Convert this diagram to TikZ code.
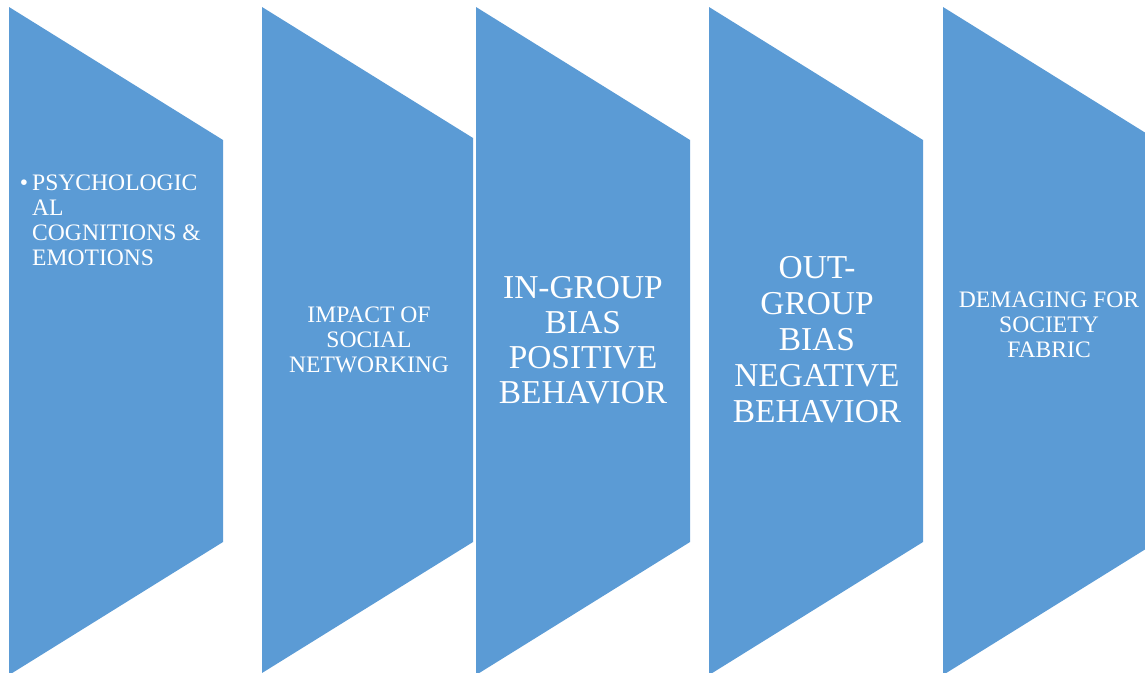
\documentclass[tikz,border=0pt]{standalone}
\usepackage{fontspec}
\setmainfont{Liberation Serif}
\definecolor{bandblue}{HTML}{5B9BD5}
\tikzset{
  band/.style={fill=bandblue, draw=none},
  bandtext/.style={text=white, inner sep=0pt, align=center, anchor=base},
  smalltext/.style={font=\fontsize{23.6}{24.8}\selectfont},
  bigtext/.style={font=\fontsize{33.4}{36}\selectfont}
}
\begin{document}
\begin{tikzpicture}[x=1pt,y=-1pt]
\useasboundingbox (0,0) rectangle (1145,672);
% bands
\fill[band] (9,7) -- (223,140) -- (223,542) -- (9,675) -- cycle;
\fill[band] (262,7) -- (473,138) -- (473,542) -- (262,673) -- cycle;
\fill[band] (476,7) -- (690,140) -- (690,542) -- (476,675) -- cycle;
\fill[band] (709,7) -- (923,140) -- (923,542) -- (709,675) -- cycle;
\fill[band] (943,7) -- (1157,140) -- (1157,542) -- (943,675) -- cycle;
% texts (anchored at the baseline of the last line)
\node[bandtext, smalltext, align=left, anchor=base west] (psych) at (32,265)
  {\llap{\textbullet\hspace{4pt}}PSYCHOLOGIC\\AL\\COGNITIONS \&\\EMOTIONS};
\node[bandtext, smalltext] (impact) at (369,372) {IMPACT OF\\SOCIAL\\NETWORKING};
\node[bandtext, bigtext, font=\fontsize{33.4}{35}\selectfont] (ingroup) at (583,403)
  {IN-GROUP\\BIAS\\POSITIVE\\BEHAVIOR};
\node[bandtext, bigtext] (outgroup) at (817,422) {OUT-\\GROUP\\BIAS\\NEGATIVE\\BEHAVIOR};
\node[bandtext, smalltext, font=\fontsize{23.6}{25}\selectfont] (society) at (1049,357)
  {DEMAGING FOR\\SOCIETY\\FABRIC};
\end{tikzpicture}
\end{document}
